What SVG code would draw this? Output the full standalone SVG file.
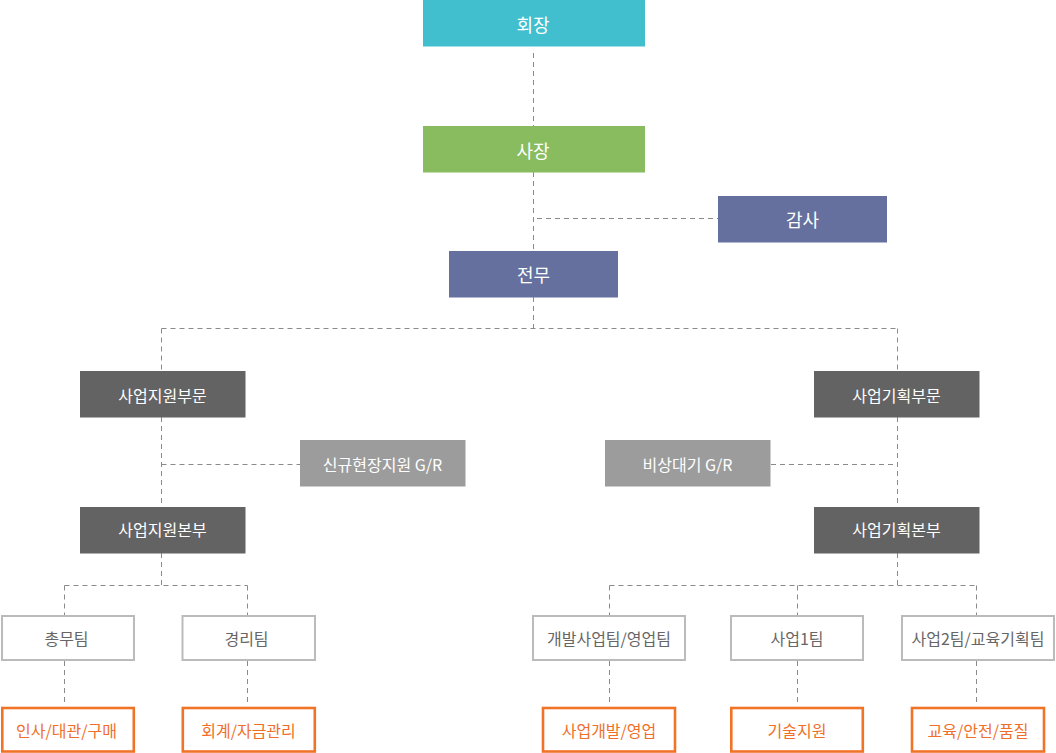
<svg xmlns="http://www.w3.org/2000/svg" width="1056" height="753" viewBox="0 0 1056 753">
<style>
text{font-family:"Noto Sans CJK KR","Noto Sans",sans-serif;text-anchor:middle;}
.t1{font-size:18px;fill:#ffffff;}
.t2{font-size:16px;fill:#ffffff;}
.t3{font-size:16px;fill:#666666;}
.t4{font-size:16px;fill:#ef6f2a;}
.team{fill:#ffffff;stroke:#bbbbbb;stroke-width:2;}
.sub{fill:#ffffff;stroke:#f07428;stroke-width:2.6;}
.conn{fill:none;stroke:#8a8a8a;stroke-width:1;stroke-dasharray:5,4;}
</style>
<rect width="1056" height="753" fill="#ffffff"/>
<g id="connectors">
<path class="conn" d="M533.5,53V126M533.5,172V251M537,218.5H718M533.5,297V328.5M161.5,328.5H897.5M161.5,328.5V371M897.5,328.5V371"/>
<path class="conn" d="M161.5,417V507M161.5,464.5H300M161.5,553V585.5M64.5,585.5H247.5M64.5,585.5V615M247.5,585.5V615M64.5,661V706M247.5,661V706"/>
<path class="conn" d="M897.5,417V507M771,464.5H897.5M897.5,553V585.5M609.5,585.5H976.5M609.5,585.5V615M797.5,585.5V615M976.5,585.5V615M609.5,661V706M797.5,661V706M976.5,661V706"/>
</g>
<g id="n-chairman"><rect x="423" y="0" width="222" height="46.5" fill="#41bfcf"/><text class="t1" x="533" y="31.5">회장</text></g>
<g id="n-president"><rect x="423" y="126" width="222" height="46.5" fill="#88bc5f"/><text class="t1" x="533" y="157.5">사장</text></g>
<g id="n-audit"><rect x="718" y="196" width="169" height="46.5" fill="#65709e"/><text class="t1" x="802.5" y="227">감사</text></g>
<g id="n-executive"><rect x="449" y="251" width="169" height="46.5" fill="#65709e"/><text class="t1" x="533.5" y="282">전무</text></g>
<g id="n-support-div"><rect x="80" y="371" width="165.5" height="46.5" fill="#636363"/><text class="t2" x="162.5" y="401.5">사업지원부문</text></g>
<g id="n-new-site"><rect x="300" y="440" width="165.5" height="46.5" fill="#9c9c9c"/><text class="t2" x="382.5" y="470.5">신규현장지원 G/R</text></g>
<g id="n-support-hq"><rect x="80" y="507" width="165.5" height="46.5" fill="#636363"/><text class="t2" x="162.5" y="536">사업지원본부</text></g>
<g id="n-plan-div"><rect x="814" y="371" width="165.5" height="46.5" fill="#636363"/><text class="t2" x="896.5" y="401.5">사업기획부문</text></g>
<g id="n-standby"><rect x="605" y="440" width="165.5" height="46.5" fill="#9c9c9c"/><text class="t2" x="687.5" y="470.5">비상대기 G/R</text></g>
<g id="n-plan-hq"><rect x="814" y="507" width="165.5" height="46.5" fill="#636363"/><text class="t2" x="896.5" y="536">사업기획본부</text></g>
<g id="n-general"><rect class="team" x="2" y="616" width="132" height="44"/><text class="t3" x="66.5" y="645">총무팀</text></g>
<g id="n-accounting"><rect class="team" x="182.5" y="616" width="132.5" height="44"/><text class="t3" x="246.5" y="645">경리팀</text></g>
<g id="n-dev-sales"><rect class="team" x="533" y="616" width="152" height="44"/><text class="t3" x="609" y="645">개발사업팀/영업팀</text></g>
<g id="n-biz1"><rect class="team" x="731" y="616" width="132" height="44"/><text class="t3" x="797" y="645">사업1팀</text></g>
<g id="n-biz2"><rect class="team" x="902" y="616" width="152" height="44"/><text class="t3" x="978" y="645">사업2팀/교육기획팀</text></g>
<g id="n-hr"><rect class="sub" x="2.3" y="708" width="131.5" height="43.5"/><text class="t4" x="66.5" y="736.5">인사/대관/구매</text></g>
<g id="n-finance"><rect class="sub" x="182.8" y="708" width="132" height="43.5"/><text class="t4" x="248.5" y="736.5">회계/자금관리</text></g>
<g id="n-bizdev"><rect class="sub" x="543" y="708" width="132" height="43.5"/><text class="t4" x="609" y="736.5">사업개발/영업</text></g>
<g id="n-tech"><rect class="sub" x="731.3" y="708" width="131.5" height="43.5"/><text class="t4" x="797" y="736.5">기술지원</text></g>
<g id="n-edu"><rect class="sub" x="912" y="708" width="132" height="43.5"/><text class="t4" x="978" y="736.5">교육/안전/품질</text></g>
</svg>
